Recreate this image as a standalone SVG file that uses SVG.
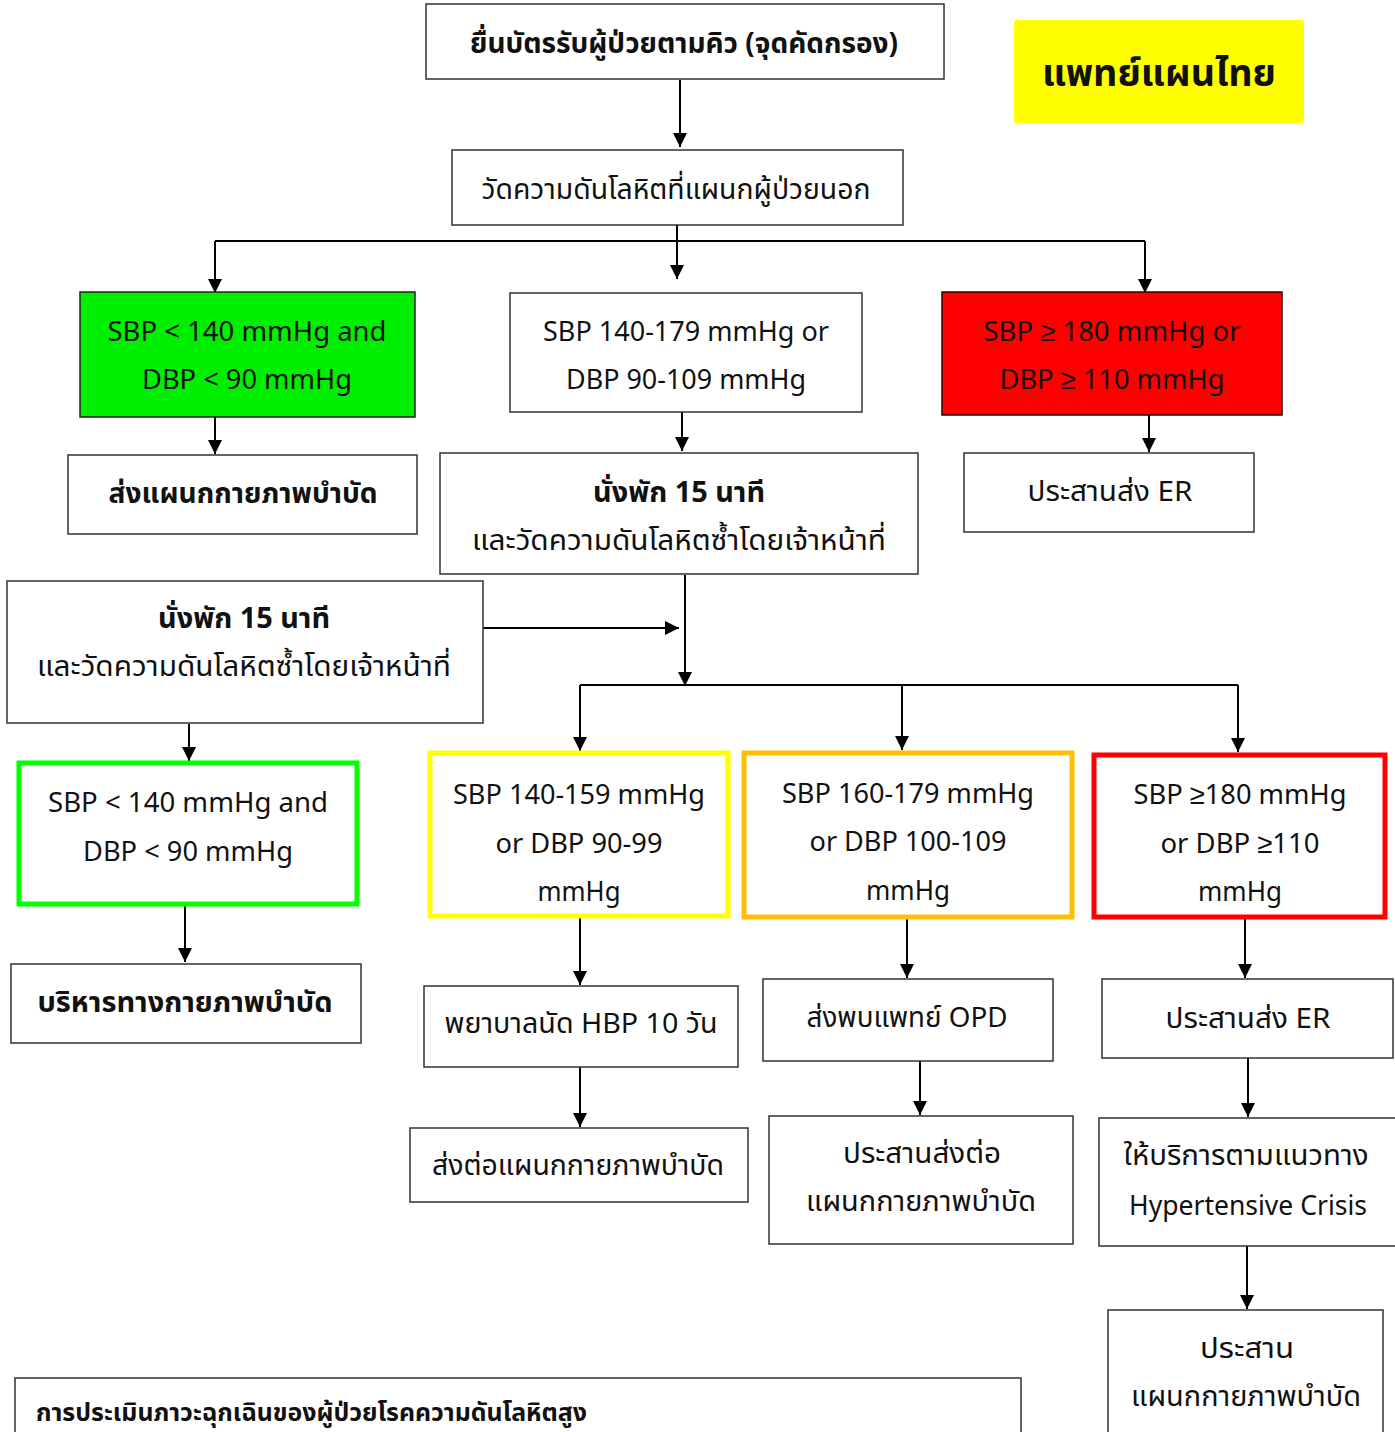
<svg xmlns="http://www.w3.org/2000/svg" width="1395" height="1432" viewBox="0 0 1395 1432">
<defs>
<marker id="ah" markerUnits="userSpaceOnUse" markerWidth="14" markerHeight="14" refX="14" refY="7" orient="auto" viewBox="0 0 14 14">
<path d="M0,0 L14,7 L0,14 z" fill="#000"/>
</marker>
<style>
.box{fill:#fff;stroke:#333;stroke-width:1.5}
.t{font-family:"Noto Sans Thai","Liberation Sans","DejaVu Sans",sans-serif;font-size:28px;fill:#111;text-anchor:middle}
.b{font-weight:bold}
.c{stroke:#000;stroke-width:2;fill:none}
.a{marker-end:url(#ah)}
</style>
</defs>
<rect width="1395" height="1432" fill="#fff"/>

<g id="connectors">
<path class="c a" d="M680,80 V147"/>
<path class="c a" d="M677,225 V279"/>
<path class="c" d="M215,241 H1145"/>
<path class="c a" d="M215,241 V293"/>
<path class="c a" d="M1145,241 V293"/>
<path class="c a" d="M215,417 V454"/>
<path class="c a" d="M682,412 V451"/>
<path class="c a" d="M1149,415 V452"/>
<path class="c a" d="M483,628 H679"/>
<path class="c a" d="M685,575 V686"/>
<path class="c" d="M580,685 H1238"/>
<path class="c a" d="M580,685 V751"/>
<path class="c a" d="M902,685 V750"/>
<path class="c a" d="M1238,685 V752"/>
<path class="c a" d="M189,724 V761"/>
<path class="c a" d="M185,905 V962"/>
<path class="c a" d="M580,918 V985"/>
<path class="c a" d="M580,1067 V1127"/>
<path class="c a" d="M907,918 V978"/>
<path class="c a" d="M920,1061 V1115"/>
<path class="c a" d="M1245,918 V978"/>
<path class="c a" d="M1248,1058 V1117"/>
<path class="c a" d="M1247,1246 V1309"/>
</g>

<g id="n-queue">
<rect class="box" x="426" y="4" width="518" height="75"/>
<text class="t b" x="684" y="53" textLength="428" lengthAdjust="spacingAndGlyphs">ยื่นบัตรรับผู้ป่วยตามคิว (จุดคัดกรอง)</text>
</g>

<g id="n-title">
<rect x="1014" y="20" width="290" height="103" rx="3" fill="#ffff00"/>
<text class="t b" x="1159" y="86" style="font-size:38px" textLength="234" lengthAdjust="spacingAndGlyphs">แพทย์แผนไทย</text>
</g>

<g id="n-measure">
<rect class="box" x="452" y="150" width="451" height="75"/>
<text class="t" x="676" y="199" textLength="389" lengthAdjust="spacingAndGlyphs">วัดความดันโลหิตที่แผนกผู้ป่วยนอก</text>
</g>

<g id="n-normal1">
<rect x="80" y="292" width="335" height="125" fill="#00ee00" stroke="#222" stroke-width="1.5"/>
<text class="t" x="247" y="341" textLength="279" lengthAdjust="spacingAndGlyphs">SBP &lt; 140 mmHg and</text>
<text class="t" x="247" y="389" textLength="210" lengthAdjust="spacingAndGlyphs">DBP &lt; 90 mmHg</text>
</g>

<g id="n-mid1">
<rect class="box" x="510" y="293" width="352" height="119"/>
<text class="t" x="686" y="341" textLength="286" lengthAdjust="spacingAndGlyphs">SBP 140-179 mmHg or</text>
<text class="t" x="686" y="389" textLength="240" lengthAdjust="spacingAndGlyphs">DBP 90-109 mmHg</text>
</g>

<g id="n-high1">
<rect x="942" y="292" width="340" height="123" fill="#ff0000" stroke="#300" stroke-width="1.5"/>
<text class="t" x="1112" y="341" textLength="257" lengthAdjust="spacingAndGlyphs">SBP ≥ 180 mmHg or</text>
<text class="t" x="1112" y="389" textLength="225" lengthAdjust="spacingAndGlyphs">DBP ≥ 110 mmHg</text>
</g>

<g id="n-physio1">
<rect class="box" x="68" y="455" width="349" height="79"/>
<text class="t b" x="243" y="503" textLength="269" lengthAdjust="spacingAndGlyphs">ส่งแผนกกายภาพบำบัด</text>
</g>

<g id="n-rest1">
<rect class="box" x="440" y="453" width="478" height="121"/>
<text class="t b" x="679" y="502" textLength="172" lengthAdjust="spacingAndGlyphs">นั่งพัก 15 นาที</text>
<text class="t" x="679" y="550" textLength="414" lengthAdjust="spacingAndGlyphs">และวัดความดันโลหิตซ้ำโดยเจ้าหน้าที่</text>
</g>

<g id="n-er1">
<rect class="box" x="964" y="453" width="290" height="79"/>
<text class="t" x="1110" y="501" textLength="165" lengthAdjust="spacingAndGlyphs">ประสานส่ง ER</text>
</g>

<g id="n-rest2">
<rect class="box" x="7" y="581" width="476" height="142"/>
<text class="t b" x="244" y="628" textLength="172" lengthAdjust="spacingAndGlyphs">นั่งพัก 15 นาที</text>
<text class="t" x="244" y="676" textLength="414" lengthAdjust="spacingAndGlyphs">และวัดความดันโลหิตซ้ำโดยเจ้าหน้าที่</text>
</g>

<g id="n-normal2">
<rect x="19" y="763" width="338" height="141" fill="#fff" stroke="#00ff00" stroke-width="5"/>
<text class="t" x="188" y="812" textLength="280" lengthAdjust="spacingAndGlyphs">SBP &lt; 140 mmHg and</text>
<text class="t" x="188" y="861" textLength="210" lengthAdjust="spacingAndGlyphs">DBP &lt; 90 mmHg</text>
</g>

<g id="n-stage1">
<rect x="430" y="753" width="298" height="163" fill="#fff" stroke="#ffff00" stroke-width="5"/>
<text class="t" x="579" y="804" textLength="252" lengthAdjust="spacingAndGlyphs">SBP 140-159 mmHg</text>
<text class="t" x="579" y="853" textLength="167" lengthAdjust="spacingAndGlyphs">or DBP 90-99</text>
<text class="t" x="579" y="901" textLength="83" lengthAdjust="spacingAndGlyphs">mmHg</text>
</g>

<g id="n-stage2">
<rect x="744" y="753" width="328" height="164" fill="#fff" stroke="#ffc000" stroke-width="5"/>
<text class="t" x="908" y="803" textLength="252" lengthAdjust="spacingAndGlyphs">SBP 160-179 mmHg</text>
<text class="t" x="908" y="851" textLength="197" lengthAdjust="spacingAndGlyphs">or DBP 100-109</text>
<text class="t" x="908" y="900" textLength="84" lengthAdjust="spacingAndGlyphs">mmHg</text>
</g>

<g id="n-crisis">
<rect x="1094" y="755" width="291" height="162" fill="#fff" stroke="#ff0000" stroke-width="5"/>
<text class="t" x="1240" y="804" textLength="213" lengthAdjust="spacingAndGlyphs">SBP ≥180 mmHg</text>
<text class="t" x="1240" y="853" textLength="159" lengthAdjust="spacingAndGlyphs">or DBP ≥110</text>
<text class="t" x="1240" y="901" textLength="84" lengthAdjust="spacingAndGlyphs">mmHg</text>
</g>

<g id="n-exercise">
<rect class="box" x="11" y="964" width="350" height="79"/>
<text class="t b" x="185" y="1012" textLength="295" lengthAdjust="spacingAndGlyphs">บริหารทางกายภาพบำบัด</text>
</g>

<g id="n-hbp">
<rect class="box" x="424" y="986" width="314" height="81"/>
<text class="t" x="581" y="1033" textLength="273" lengthAdjust="spacingAndGlyphs">พยาบาลนัด HBP 10 วัน</text>
</g>

<g id="n-physio2">
<rect class="box" x="410" y="1128" width="338" height="74"/>
<text class="t" x="578" y="1175" textLength="292" lengthAdjust="spacingAndGlyphs">ส่งต่อแผนกกายภาพบำบัด</text>
</g>

<g id="n-opd">
<rect class="box" x="763" y="979" width="290" height="82"/>
<text class="t" x="907" y="1027" textLength="201" lengthAdjust="spacingAndGlyphs">ส่งพบแพทย์ OPD</text>
</g>

<g id="n-physio3">
<rect class="box" x="769" y="1116" width="304" height="128"/>
<text class="t" x="922" y="1163" textLength="158" lengthAdjust="spacingAndGlyphs">ประสานส่งต่อ</text>
<text class="t" x="921" y="1211" textLength="230" lengthAdjust="spacingAndGlyphs">แผนกกายภาพบำบัด</text>
</g>

<g id="n-er2">
<rect class="box" x="1102" y="979" width="291" height="79"/>
<text class="t" x="1248" y="1028" textLength="165" lengthAdjust="spacingAndGlyphs">ประสานส่ง ER</text>
</g>

<g id="n-guideline">
<rect class="box" x="1099" y="1118" width="300" height="128"/>
<text class="t" x="1246" y="1165" textLength="245" lengthAdjust="spacingAndGlyphs">ให้บริการตามแนวทาง</text>
<text class="t" x="1248" y="1215" textLength="238" lengthAdjust="spacingAndGlyphs">Hypertensive Crisis</text>
</g>

<g id="n-physio4">
<rect class="box" x="1108" y="1310" width="275" height="130"/>
<text class="t" x="1247" y="1358" textLength="94" lengthAdjust="spacingAndGlyphs">ประสาน</text>
<text class="t" x="1246" y="1406" textLength="230" lengthAdjust="spacingAndGlyphs">แผนกกายภาพบำบัด</text>
</g>

<g id="n-caption">
<rect class="box" x="15" y="1378" width="1006" height="70"/>
<text class="t b" x="36" y="1421" style="text-anchor:start;font-size:24px" textLength="551" lengthAdjust="spacingAndGlyphs">การประเมินภาวะฉุกเฉินของผู้ป่วยโรคความดันโลหิตสูง</text>
</g>
</svg>
